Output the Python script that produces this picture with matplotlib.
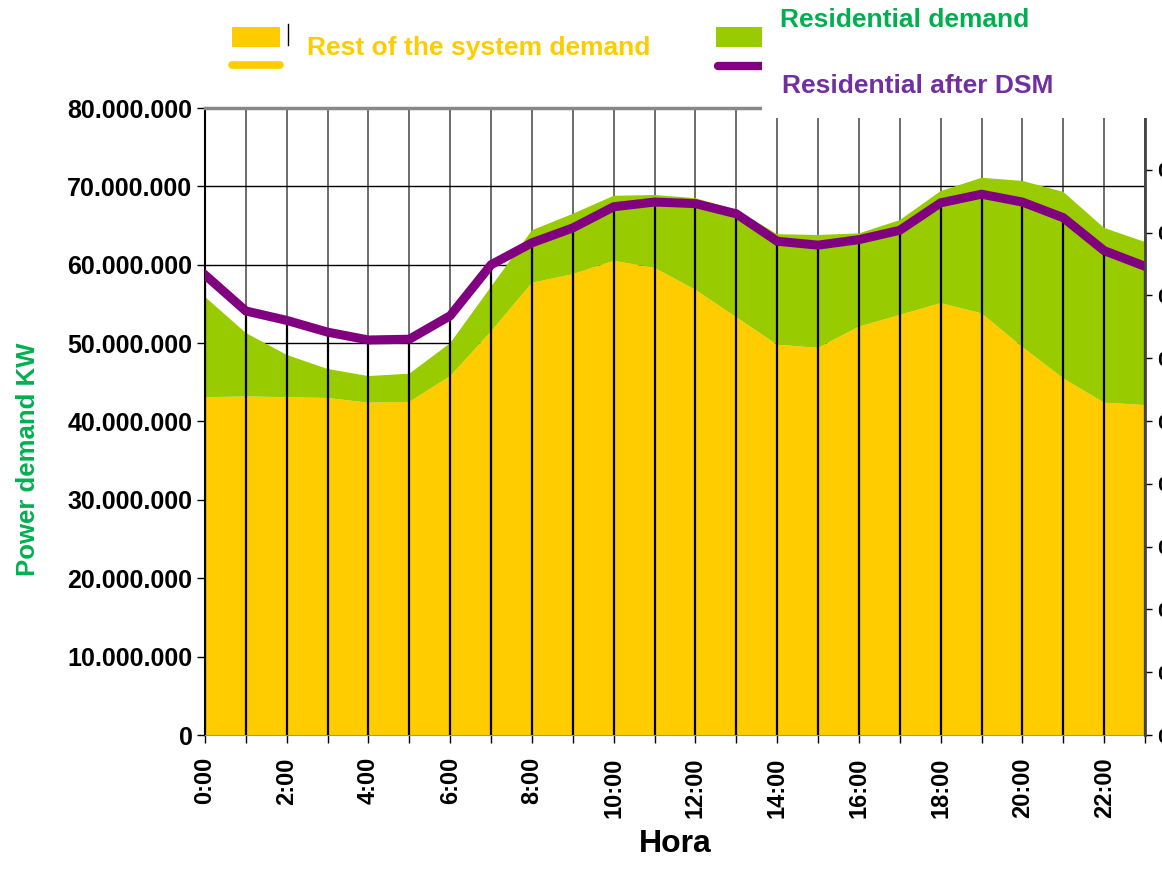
import matplotlib
matplotlib.use('Agg')
from matplotlib import pyplot as plt
from matplotlib.patches import Rectangle
from matplotlib.lines import Line2D
import numpy as np

# hourly demand, values in millions of kW
hours = list(range(24))
hour_labels = ['%d:00' % h if h % 2 == 0 else '' for h in hours]

rest_demand = [43.1, 43.2, 43.1, 43.0, 42.4, 42.5, 45.8, 51.5, 57.7, 58.8, 60.5, 59.6,
               56.8, 53.3, 49.8, 49.4, 52.1, 53.6, 55.1, 53.8, 49.5, 45.5, 42.4, 42.1]
residential = [12.8, 8.1, 5.4, 3.7, 3.4, 3.6, 4.2, 5.7, 6.7, 7.7, 8.3, 9.3,
               11.7, 13.7, 14.1, 14.4, 11.9, 12.1, 14.3, 17.3, 21.2, 23.8, 22.3, 20.8]
after_dsm = [58.7, 54.1, 52.9, 51.4, 50.4, 50.5, 53.5, 60.0, 62.8, 64.7, 67.4, 68.0,
             67.8, 66.5, 63.0, 62.5, 63.2, 64.4, 67.9, 69.0, 68.0, 66.0, 61.8, 59.8]

left_ticks = [0, 10, 20, 30, 40, 50, 60, 70, 80]
right_ticks = list(range(10))

YELLOW = '#FFCC00'
GREEN = '#99CC00'
PURPLE = '#800080'
BOLD = ['Liberation Sans', 'DejaVu Sans']

W, H = 1162, 871
fig = plt.figure(figsize=(W / 100, H / 100), dpi=100)
ax = fig.add_axes([205 / W, 1 - 735 / H, 940 / W, 627 / H])

x = np.array(hours)
rest = np.array(rest_demand) * 1e6
resid = np.array(residential) * 1e6
dsm = np.array(after_dsm) * 1e6

ax.stackplot(x, rest, resid, colors=[YELLOW, GREEN], zorder=2)
# drop lines from the DSM curve down to the axis
ax.vlines(x, 0, dsm, color='black', linewidth=1.6, zorder=3)
ax.plot(x, dsm, color=PURPLE, linewidth=6.5, zorder=4, solid_joinstyle='miter')

ax.set_xlim(0, 23)
ax.set_ylim(0, 80e6)
ax.set_xticks(x)
ax.set_xticklabels(hour_labels, rotation=90, fontsize=17, fontweight='bold', family=BOLD)
ax.set_yticks([v * 1e6 for v in left_ticks])
ax.set_yticklabels(['0' if v == 0 else '{:,}'.format(v * 1000000).replace(',', '.') for v in left_ticks],
                   fontsize=18, fontweight='bold', family=BOLD)
ax.tick_params(axis='x', length=6, width=1, pad=10)
ax.tick_params(axis='y', length=6, width=1, pad=3)

ax.grid(True, axis='y', color='black', linewidth=1, zorder=1)
ax.grid(True, axis='x', color='#444444', linewidth=1.1, zorder=1)
ax.set_axisbelow(True)
ax.spines['top'].set_color('#888888')
ax.spines['top'].set_linewidth(2.5)
ax.spines['left'].set_linewidth(1.5)
ax.spines['bottom'].set_color('#999999')
ax.spines['right'].set_visible(False)

ax2 = ax.twinx()
ax2.set_ylim(0, 627 / 62.8)
ax2.set_yticks(right_ticks)
ax2.set_yticklabels(['0'] + ['0,%d' % v for v in right_ticks[1:]], fontsize=15,
                    fontweight='bold', family=BOLD)
ax2.tick_params(axis='y', length=5, width=1, pad=4)
for s in ['top', 'left', 'bottom']:
    ax2.spines[s].set_visible(False)
ax2.spines['right'].set_color('#444444')
ax2.spines['right'].set_linewidth(2)

ax.set_xlabel('Hora', fontsize=23, fontweight='bold', family=BOLD, labelpad=8)
fig.text(28 / W, 1 - 459 / H, 'Power demand KW', rotation=90, ha='center', va='center',
         fontsize=18.5, fontweight='bold', color='#00B050', family=BOLD)


def fx(px):
    return px / W


def fy(py):
    return 1 - py / H


# legend drawn by hand
fig.add_artist(Rectangle((fx(232), fy(47)), 48 / W, 20 / H, facecolor=YELLOW,
                         edgecolor='none', transform=fig.transFigure, zorder=4))
fig.add_artist(Line2D([fx(232), fx(280)], [fy(65), fy(65)], color=YELLOW, linewidth=5.5,
                      solid_capstyle='round', transform=fig.transFigure, zorder=4))
fig.add_artist(Line2D([fx(288), fx(288)], [fy(24), fy(45)], color='black', linewidth=1,
                      transform=fig.transFigure, zorder=4))
fig.text(fx(307), fy(48), 'Rest of the system demand', ha='left', va='center', fontsize=19,
         fontweight='bold', color=YELLOW, family=BOLD, zorder=6)

fig.add_artist(Rectangle((fx(716), fy(47)), 60 / W, 20 / H, facecolor=GREEN,
                         edgecolor='none', transform=fig.transFigure, zorder=4))
fig.add_artist(Line2D([fx(718), fx(780)], [fy(66), fy(66)], color=PURPLE, linewidth=6,
                      solid_capstyle='round', transform=fig.transFigure, zorder=4))
fig.add_artist(Rectangle((fx(762), fy(118)), (W - 762) / W, 118 / H, facecolor='white',
                         edgecolor='none', transform=fig.transFigure, zorder=5))
fig.text(fx(780), fy(20), 'Residential demand', ha='left', va='center', fontsize=19,
         fontweight='bold', color='#00B050', family=BOLD, zorder=6)
fig.text(fx(782), fy(86), 'Residential after DSM', ha='left', va='center', fontsize=19,
         fontweight='bold', color='#7030A0', family=BOLD, zorder=6)

fig.savefig('out.png', dpi=100)
